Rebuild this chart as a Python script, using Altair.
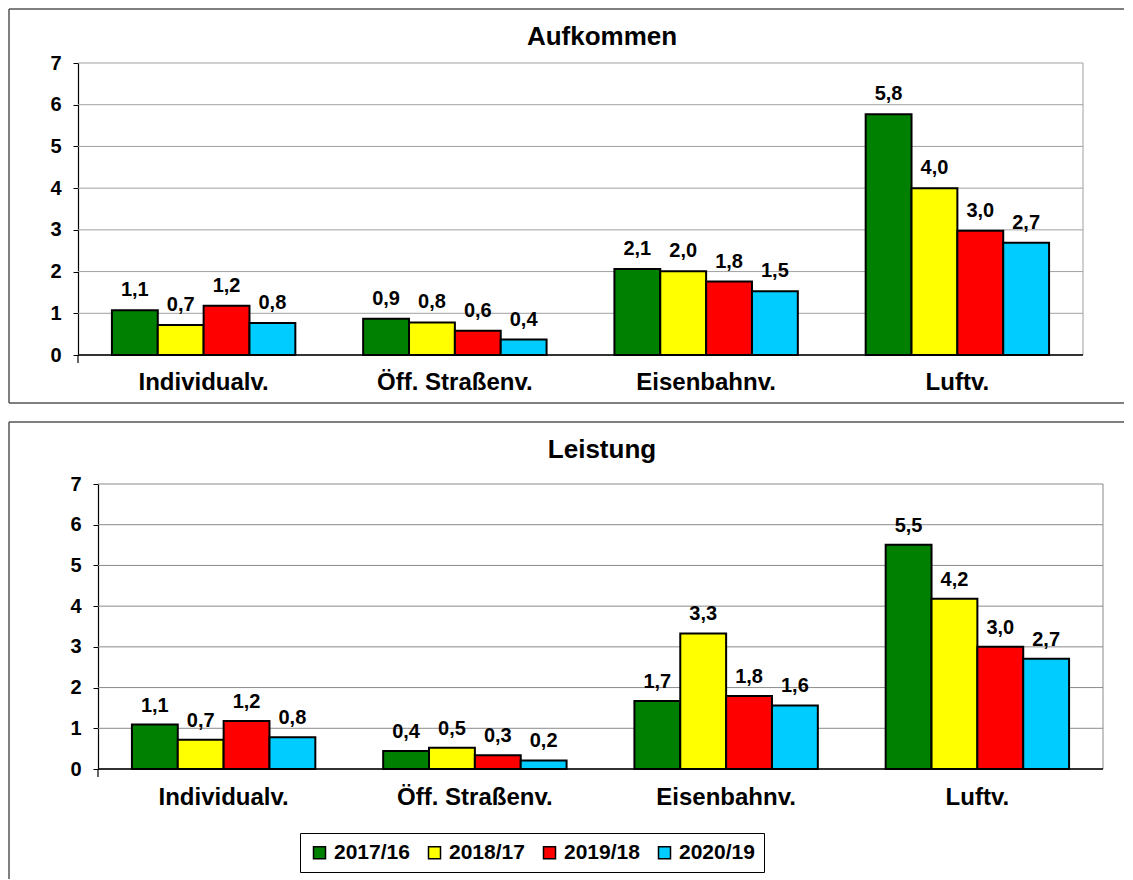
import altair as alt
import pandas as pd

categories = ["Individualv.", "Öff. Straßenv.", "Eisenbahnv.", "Luftv."]
series = ["2017/16", "2018/17", "2019/18", "2020/19"]
colors = ["#008000", "#FFFF00", "#FF0000", "#00CCFF"]

# Aufkommen (top panel)
aufkommen_2017 = [1.07, 0.87, 2.06, 5.77]
aufkommen_2018 = [0.72, 0.78, 2.01, 4.00]
aufkommen_2019 = [1.18, 0.58, 1.76, 2.98]
aufkommen_2020 = [0.77, 0.37, 1.53, 2.69]

# Leistung (bottom panel)
leistung_2017 = [1.09, 0.44, 1.67, 5.51]
leistung_2018 = [0.72, 0.52, 3.33, 4.18]
leistung_2019 = [1.18, 0.34, 1.79, 3.00]
leistung_2020 = [0.78, 0.21, 1.56, 2.71]

y_ticks = [0, 1, 2, 3, 4, 5, 6, 7]
FONT = "Liberation Sans"
PLOT_W = 1005


def make_df(cols):
    rows = []
    for s, vals in zip(series, cols):
        for c, v in zip(categories, vals):
            rows.append({"cat": c, "series": s, "value": v})
    return pd.DataFrame(rows)


df_top = make_df([aufkommen_2017, aufkommen_2018, aufkommen_2019, aufkommen_2020])
df_bot = make_df([leistung_2017, leistung_2018, leistung_2019, leistung_2020])
df_ticks = pd.DataFrame({"tick": y_ticks})


def seg(x1, x2, y1, y2, color="#555555", width=1.5):
    return alt.Chart(pd.DataFrame({"a": [0]})).mark_rule(
        stroke=color, strokeWidth=width
    ).encode(x=alt.value(x1), x2=alt.value(x2), y=alt.value(y1), y2=alt.value(y2))


def panel(df, title, shift, h, frame_segs, title_pos, label_dy, xlab_pad, grid_color, show_legend):
    w = shift + PLOT_W
    x = alt.X(
        "cat:N", sort=categories, title=None,
        scale=alt.Scale(paddingInner=0.27, paddingOuter=0.135, range=[shift, w]),
        axis=alt.Axis(labelAngle=0, ticks=False, domain=False,
                      labelFontSize=24, labelFont=FONT, labelFontWeight="bold",
                      labelColor="black", labelPadding=xlab_pad, grid=False),
    )
    yscale = alt.Scale(domain=[0, 7], nice=False)
    y_axis = alt.Axis(values=y_ticks, tickSize=5, tickColor="black", domainColor="black",
                      domainWidth=1.2, labelFontSize=20, labelFont=FONT, labelFontWeight="bold",
                      labelColor="black", labelPadding=12, grid=False, offset=-shift)
    y = alt.Y("value:Q", title=None, scale=yscale, axis=y_axis)
    xo = alt.XOffset("series:N", sort=series, scale=alt.Scale(paddingInner=0, paddingOuter=0))
    color_kwargs = dict(sort=series, scale=alt.Scale(domain=series, range=colors))
    if show_legend:
        leg = alt.Legend(
            title=None, orient="none", direction="horizontal", columns=4,
            legendX=222, legendY=770, padding=9, strokeColor="black", fillColor="white",
            symbolType="square", symbolSize=144, symbolStrokeColor="black", symbolStrokeWidth=1.5,
            labelFontSize=21, labelFont=FONT, labelFontWeight="bold", labelColor="black",
            labelOffset=4, columnPadding=14,
        )
        color = alt.Color("series:N", legend=leg, **color_kwargs)
    else:
        color = alt.Color("series:N", **color_kwargs)

    grid = alt.Chart(df_ticks).mark_rule(stroke=grid_color, strokeWidth=1).encode(
        y=alt.Y("tick:Q", title=None, scale=yscale, axis=y_axis), x=alt.value(shift), x2=alt.value(w)
    )
    right_border = seg(w, w, 0, h, grid_color, 1)
    x_domain = seg(shift, w, h, h, "black", 1.5)
    corner_tick = seg(shift, shift, h, h + 8, "black", 1.2)

    base = alt.Chart(df)
    bars = base.mark_bar(stroke="black", strokeWidth=2).encode(x=x, xOffset=xo, y=y, color=color)
    labels = base.transform_calculate(
        label="replace(format(datum.value, '.1f'), '.', ',')"
    ).mark_text(
        dy=label_dy, baseline="alphabetic", fontSize=20, fontWeight="bold", font=FONT, color="black"
    ).encode(x=x, xOffset=xo, y=y, text="label:N")

    frame = [seg(*s) for s in frame_segs]

    title_text = alt.Chart(pd.DataFrame({"t": [title]})).mark_text(
        fontSize=26, fontWeight="bold", font=FONT, color="black", baseline="alphabetic", align="center"
    ).encode(x=alt.value(title_pos[0]), y=alt.value(title_pos[1]), text="t:N")

    return alt.layer(
        *frame, grid, right_border, bars, x_domain, corner_tick, labels, title_text
    ).properties(width=w, height=h)


# frame segments relative to the common plot origin: (x1, x2, y1, y2)
top_frame = [(-69, 1046, -54, -54), (-69, -69, -54, 340), (-69, 1046, 340, 340)]
bot_frame = [(-69, 1046, -62, -62), (-69, -69, -62, 395)]

top = panel(df_top, "Aufkommen", 0, 292, top_frame, (524, -18), -14, 15, "#a0a0a0", False)
bot = panel(df_bot, "Leistung", 20, 285, bot_frame, (524, -26), -13, 16, "#8a8a8a", True)

chart = alt.vconcat(top, bot, spacing=17).properties(padding=0).configure_view(strokeWidth=0)

chart.save("out.html", embed_options={"renderer": "svg", "actions": False})
